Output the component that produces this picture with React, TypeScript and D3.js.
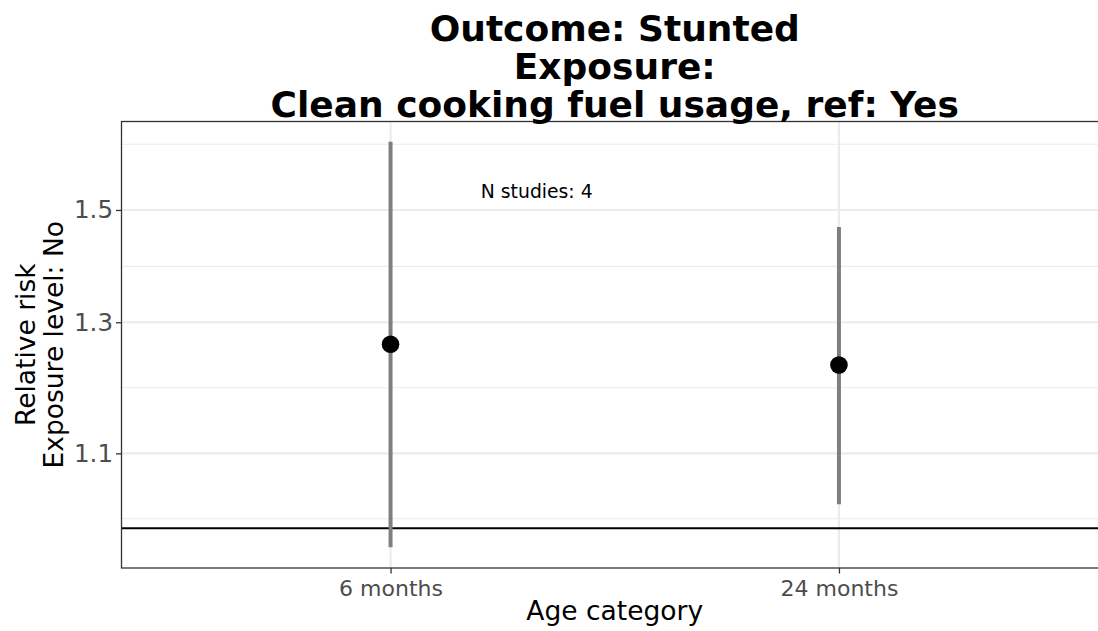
import { useEffect, useRef } from 'react';
import * as d3 from 'd3';

// age categories on the x axis
const categories = ['6 months', '24 months'];
// pooled relative risk with 95% CI
const estimates = [1.264, 1.231];
const lowerCI = [0.976, 1.031];
const upperCI = [1.636, 1.468];

const yBreaks = [1.1, 1.3, 1.5];
const yMinorBreaks = [1.012, 1.196, 1.396, 1.631];
const refLine = 1;

const titleLines = ['Outcome: Stunted', 'Exposure:', 'Clean cooking fuel usage, ref: Yes'];
const yTitleLines = ['Relative risk', 'Exposure level: No'];
const xTitle = 'Age category';
const annotationText = 'N studies: 4';
const annotationPos = { x: 1.326, y: 1.535 };

const FONT = '"DejaVu Sans", sans-serif';

export default function App() {
  const svgRef = useRef<SVGSVGElement>(null);

  useEffect(() => {
    if (!svgRef.current) return;
    const svg = d3.select(svgRef.current);
    svg.selectAll('*').remove();

    const panel = { left: 121.5, top: 121.5, right: 1108, bottom: 568 };

    const xScale = d3.scalePoint<string>()
      .domain(categories)
      .range([panel.left, panel.right])
      .padding(0.6);

    // numeric index scale for annotations (1-based like ggplot)
    const xIndex = d3.scaleLinear()
      .domain([1, 2])
      .range([xScale(categories[0])!, xScale(categories[1])!]);

    const yScale = d3.scaleLog()
      .domain([0.9505, 1.679])
      .range([panel.bottom, panel.top]);

    svg.append('rect')
      .attr('width', 1098)
      .attr('height', 631)
      .attr('fill', '#fff');

    const grid = svg.append('g');

    grid.selectAll('.minor')
      .data(yMinorBreaks)
      .enter()
      .append('line')
      .attr('x1', panel.left)
      .attr('x2', panel.right)
      .attr('y1', d => yScale(d))
      .attr('y2', d => yScale(d))
      .attr('stroke', '#EBEBEB')
      .attr('stroke-width', 1.1);

    grid.selectAll('.major-y')
      .data(yBreaks)
      .enter()
      .append('line')
      .attr('x1', panel.left)
      .attr('x2', panel.right)
      .attr('y1', d => yScale(d))
      .attr('y2', d => yScale(d))
      .attr('stroke', '#EBEBEB')
      .attr('stroke-width', 2.1);

    grid.selectAll('.major-x')
      .data(categories)
      .enter()
      .append('line')
      .attr('x1', d => xScale(d)!)
      .attr('x2', d => xScale(d)!)
      .attr('y1', panel.top)
      .attr('y2', panel.bottom)
      .attr('stroke', '#EBEBEB')
      .attr('stroke-width', 2.1);

    // reference line at RR = 1
    svg.append('line')
      .attr('x1', panel.left)
      .attr('x2', panel.right)
      .attr('y1', yScale(refLine))
      .attr('y2', yScale(refLine))
      .attr('stroke', '#000')
      .attr('stroke-width', 2);

    // CI lines
    svg.selectAll('.ci')
      .data(categories)
      .enter()
      .append('line')
      .attr('x1', d => xScale(d)!)
      .attr('x2', d => xScale(d)!)
      .attr('y1', (_, i) => yScale(lowerCI[i]))
      .attr('y2', (_, i) => yScale(upperCI[i]))
      .attr('stroke', '#7F7F7F')
      .attr('stroke-width', 4);

    // point estimates
    svg.selectAll('.pt')
      .data(categories)
      .enter()
      .append('circle')
      .attr('cx', d => xScale(d)!)
      .attr('cy', (_, i) => yScale(estimates[i]))
      .attr('r', 8.8)
      .attr('fill', '#000');

    svg.append('text')
      .attr('x', xIndex(annotationPos.x))
      .attr('y', yScale(annotationPos.y))
      .attr('text-anchor', 'middle')
      .attr('dominant-baseline', 'central')
      .attr('font-family', FONT)
      .attr('font-size', 18.8)
      .attr('fill', '#000')
      .text(annotationText);

    // panel border
    svg.append('rect')
      .attr('x', panel.left)
      .attr('y', panel.top)
      .attr('width', panel.right - panel.left)
      .attr('height', panel.bottom - panel.top)
      .attr('fill', 'none')
      .attr('stroke', '#333333')
      .attr('stroke-width', 1.3);

    // y axis
    const yAxis = svg.append('g')
      .attr('transform', `translate(${panel.left},0)`)
      .call(d3.axisLeft(yScale).tickValues(yBreaks).tickSize(5.5).tickPadding(3).tickFormat(d3.format('.1f')));
    yAxis.select('.domain').remove();
    yAxis.selectAll('line').attr('stroke', '#333333').attr('stroke-width', 1.3);
    yAxis.selectAll('text')
      .attr('font-family', FONT)
      .attr('font-size', 24.5)
      .attr('fill', '#4D4D4D');

    // x axis
    const xAxis = svg.append('g')
      .attr('transform', `translate(0,${panel.bottom})`)
      .call(d3.axisBottom(xScale).tickSize(5.5).tickPadding(6.5));
    xAxis.select('.domain').remove();
    xAxis.selectAll('line').attr('stroke', '#333333').attr('stroke-width', 1.3);
    xAxis.selectAll('text')
      .attr('font-family', FONT)
      .attr('font-size', 22)
      .attr('fill', '#4D4D4D');

    // axis titles
    svg.append('text')
      .attr('x', (panel.left + panel.right) / 2)
      .attr('y', 620)
      .attr('text-anchor', 'middle')
      .attr('font-family', FONT)
      .attr('font-size', 26.5)
      .attr('fill', '#000')
      .text(xTitle);

    const yTitleBaselines = [34.5, 63];
    yTitleLines.forEach((t, i) => {
      svg.append('text')
        .attr('transform', `translate(${yTitleBaselines[i]},${(panel.top + panel.bottom) / 2}) rotate(-90)`)
        .attr('text-anchor', 'middle')
        .attr('font-family', FONT)
        .attr('font-size', 26.5)
        .attr('fill', '#000')
        .text(t);
    });

    // title
    const titleBaselines = [41, 79, 117];
    titleLines.forEach((t, i) => {
      svg.append('text')
        .attr('x', (panel.left + panel.right) / 2)
        .attr('y', titleBaselines[i])
        .attr('text-anchor', 'middle')
        .attr('font-family', FONT)
        .attr('font-weight', 'bold')
        .attr('font-size', 36)
        .attr('fill', '#000')
        .text(t);
    });
  }, []);

  return (
    <svg
      ref={svgRef}
      width={1098}
      height={631}
      style={{ position: 'absolute', left: 0, top: 0 }}
    />
  );
}
